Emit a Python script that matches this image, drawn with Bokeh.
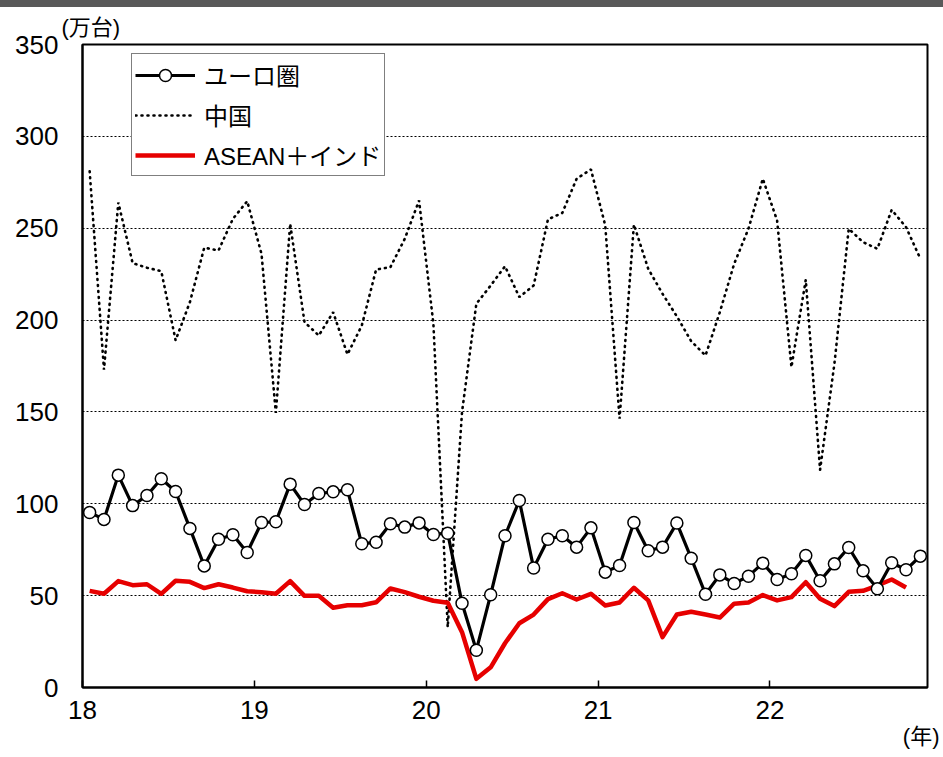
from bokeh.plotting import figure
from bokeh.layouts import column
from bokeh.models import (Range1d, FixedTicker, Legend, LegendItem, Title, Div)
from bokeh.embed import file_html
from bokeh.resources import INLINE

# monthly data, 2018-01 .. 2022-11 (unit: 10,000 vehicles)
euro = [95.3, 91.5, 115.6, 99.0, 104.5, 113.6, 106.7, 86.6, 66.2, 80.7, 83.1, 73.5,
        89.8, 90.2, 110.7, 99.6, 105.6, 106.5, 107.6, 78.2, 79.1, 89.1, 87.3, 89.6,
        83.3, 84.0, 45.9, 20.3, 50.5, 82.6, 101.8, 65.0, 80.7, 82.6, 76.4, 86.9,
        62.8, 66.4, 89.8, 74.4, 76.4, 89.5, 70.4, 50.8, 61.3, 56.6, 60.6, 67.7,
        58.8, 61.9, 71.9, 58.1, 67.3, 76.2, 63.5, 53.7, 67.9, 64.1, 71.5]
china = [281, 173, 264, 231, 228.5, 226.6, 189, 209.8, 239.4, 237.9, 255.1, 264.7,
         236, 149.5, 252.4, 198.9, 191.6, 204.3, 181.3, 197, 227.5, 228.8, 244.2, 265.1,
         198, 32.8, 150, 208.9, 218.8, 229.3, 212.5, 218.8, 254.8, 258.3, 276.9, 282,
         251.5, 146.3, 252, 227.9, 214.3, 202, 188.5, 180.7, 204.3, 230.6, 249.7, 276.9,
         254.2, 174.4, 221.9, 118.5, 176.2, 249.7, 242.4, 238.8, 260, 250.6, 233.4]
asean = [52.6, 51.0, 57.9, 55.7, 56.2, 51.0, 58.1, 57.5, 54.1, 56.2, 54.4, 52.4,
         51.9, 51.0, 57.9, 49.9, 49.9, 43.4, 44.8, 44.8, 46.4, 53.9, 51.9, 49.4,
         47.2, 46.1, 30.1, 4.7, 11.0, 24.1, 35.0, 39.7, 48.1, 51.3, 47.9, 51.0,
         44.6, 46.3, 54.3, 47.4, 27.4, 39.7, 41.2, 39.7, 38.1, 45.6, 46.3, 50.3,
         47.4, 49.2, 57.3, 48.3, 44.3, 52.1, 52.6, 55.5, 58.8, 54.4]
year_ticks = [0, 12, 24, 36, 48]
year_labels = ["18", "19", "20", "21", "22"]
y_ticks = [0, 50, 100, 150, 200, 250, 300, 350]
series_names = ["ユーロ圏", "中国", "ASEAN＋インド"]
y_unit = "(万台)"
x_unit = "(年)"

n_months = len(euro)
x_euro = [i + 0.5 for i in range(len(euro))]
x_china = [i + 0.5 for i in range(len(china))]
x_asean = [i + 0.5 for i in range(len(asean))]

NUM_FONT = "Liberation Sans"
MIX_FONT = "Liberation Sans, Noto Sans CJK JP"

# thin dark band across the top of the page
band = Div(text="", width=943, height=7,
           styles={"background-color": "#595959", "margin": "0", "padding": "0"})

p = figure(width=943, height=750, output_backend="svg", toolbar_location=None,
           x_range=Range1d(0, n_months), y_range=Range1d(0, 350),
           min_border_left=82, min_border_right=16, min_border_top=37,
           min_border_bottom=70)
p.background_fill_color = "white"
p.border_fill_color = "white"
p.outline_line_color = "black"
p.outline_line_width = 2

# axes
p.xaxis.ticker = FixedTicker(ticks=year_ticks)
p.xaxis.major_label_overrides = {t: l for t, l in zip(year_ticks, year_labels)}
p.xaxis.major_tick_in = 7
p.xaxis.major_tick_out = 0
p.xaxis.minor_tick_line_color = None
p.xaxis.axis_line_width = 2
p.xaxis.major_tick_line_width = 1.5
p.xaxis.major_label_standoff = 13
p.xaxis.major_label_text_font = NUM_FONT
p.xaxis.major_label_text_font_size = "26px"
p.xaxis.major_label_text_color = "black"

p.yaxis.ticker = FixedTicker(ticks=y_ticks)
p.yaxis.major_tick_in = 0
p.yaxis.major_tick_out = 0
p.yaxis.minor_tick_line_color = None
p.yaxis.axis_line_width = 2
p.yaxis.major_label_standoff = 24
p.yaxis.major_label_text_font = NUM_FONT
p.yaxis.major_label_text_font_size = "26px"
p.yaxis.major_label_text_color = "black"

p.xgrid.visible = False
p.ygrid.ticker = FixedTicker(ticks=[50, 100, 150, 200, 250, 300])
p.ygrid.grid_line_color = "black"
p.ygrid.grid_line_dash = "2 2"
p.ygrid.grid_line_width = 1

# unit labels
p.add_layout(Title(text=y_unit, align="left", offset=-21, standoff=9,
                   text_font=MIX_FONT, text_font_size="22px",
                   text_font_style="normal", text_color="black"), "above")
p.add_layout(Title(text=x_unit, align="right", offset=-12, standoff=0,
                   text_font=MIX_FONT, text_font_size="22px",
                   text_font_style="normal", text_color="black"), "below")

# series
r_china = p.line(x_china, china, line_color="black", line_width=2.6,
                 line_dash="1 5", line_cap="round")
r_asean = p.line(x_asean, asean, line_color="#E60000", line_width=4.5,
                 line_join="round")
r_euro_l = p.line(x_euro, euro, line_color="black", line_width=3.2,
                  line_join="round")
r_euro_m = p.scatter(x_euro, euro, size=12, fill_color="white",
                     line_color="black", line_width=1.5)

legend = Legend(items=[
    LegendItem(label=series_names[0], renderers=[r_euro_l, r_euro_m]),
    LegendItem(label=series_names[1], renderers=[r_china]),
    LegendItem(label=series_names[2], renderers=[r_asean]),
], location=(49, 511))
legend.margin = 0
legend.padding = 3
legend.spacing = 5
legend.glyph_width = 60
legend.glyph_height = 30
legend.label_height = 30
legend.label_standoff = 9
legend.label_text_font = MIX_FONT
legend.label_text_font_size = "24px"
legend.label_text_color = "black"
legend.border_line_color = "black"
legend.border_line_width = 1.5
legend.background_fill_color = "white"
legend.background_fill_alpha = 1
p.add_layout(legend)

layout = column(band, p, spacing=0)
open("out.html", "w").write(file_html(layout, INLINE))
